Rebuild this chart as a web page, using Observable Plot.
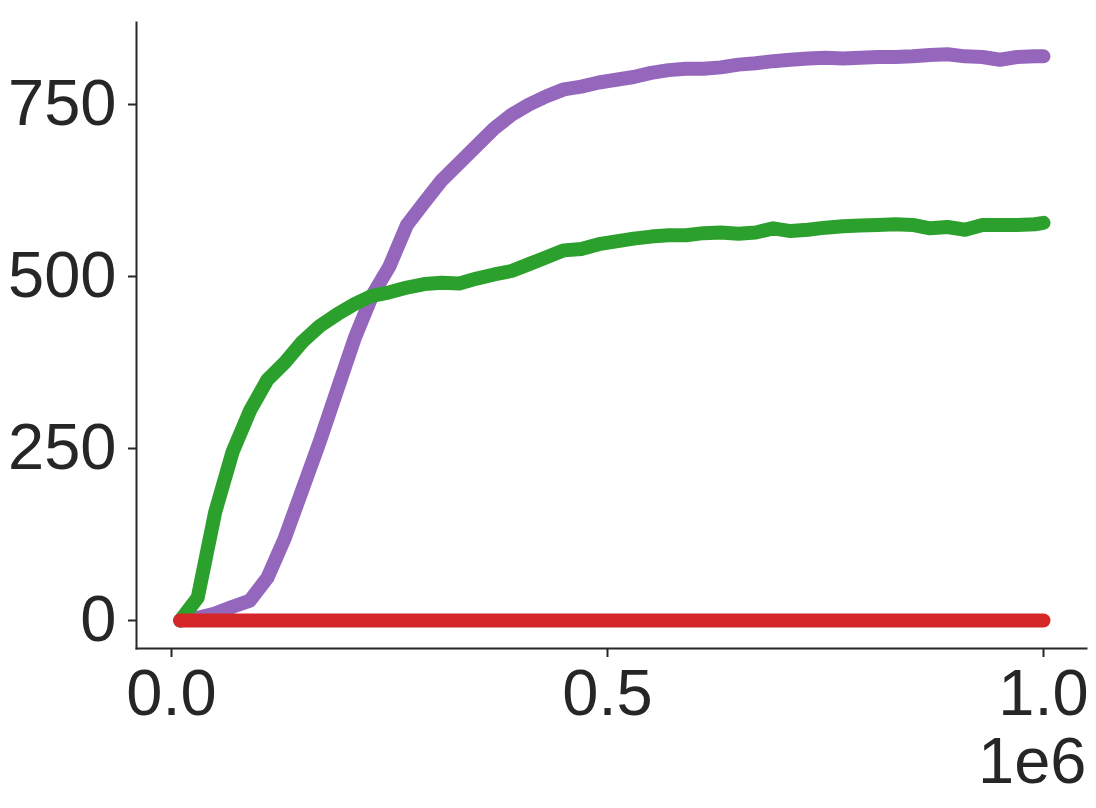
<!DOCTYPE html>
<html>
<head>
<meta charset="utf-8">
<script src="https://cdn.jsdelivr.net/npm/d3@7"></script>
<script src="https://cdn.jsdelivr.net/npm/@observablehq/plot@0.6"></script>
<style>
  html, body { margin: 0; padding: 0; background: #fff; }
  #chart svg { display: block; }
</style>
</head>
<body>
<div id="chart"></div>
<script>
// x positions (thousands of steps)
const steps = [10,30,50,70,90,110,130,150,170,190,210,230,250,270,290,310,330,350,370,390,
  410,430,450,470,490,510,530,550,570,590,610,630,650,670,690,710,730,750,770,790,
  810,830,850,870,890,910,930,950,970,990,1000];

const purpleValues = [0,4,10,20,29,62,120,190,260,335,410,472,515,575,608,640,665,690,715,735,
  750,762,772,776,782,786,790,796,800,802,802,804,808,810,813,815,817,818,817,818,
  819,819,820,822,823,820,819,815,819,820,820];

const greenValues = [0,33,157,245,305,350,375,405,428,445,460,472,477,484,489,491,490,497,503,508,
  518,528,538,540,547,551,555,558,560,560,563,564,562,564,570,566,568,571,573,574,
  575,576,575,570,572,568,575,575,575,576,578];

const redValues = steps.map(() => 0);

const xTicks = [0, 500000, 1000000];
const yTicks = [0, 250, 500, 750];

const seriesNames = ["run A", "run B", "run C"];
const seriesColors = ["#9467bd", "#2ca02c", "#d62728"];
const seriesValues = [purpleValues, greenValues, redValues];

const data = [];
seriesNames.forEach((name, i) => {
  steps.forEach((s, j) => data.push({series: name, x: s * 1000, y: seriesValues[i][j]}));
});

const ink = "#262626";
const W = 1096, H = 808;
const mL = 136, mR = 10, mT = 22, mB = 160;

const chart = Plot.plot({
  width: W,
  height: H,
  marginLeft: mL,
  marginRight: mR,
  marginTop: mT,
  marginBottom: mB,
  style: {fontFamily: "'Liberation Sans', Arial, sans-serif", fontSize: "65px", color: ink, background: "#fff"},
  x: {domain: [-40138, 1049312]},
  y: {domain: [-40.7, 869.2]},
  color: {domain: seriesNames, range: seriesColors},
  marks: [
    Plot.axisY({ticks: yTicks, tickSize: 8, tickPadding: 12, stroke: ink, strokeWidth: 2, fill: ink, fontSize: 65, label: null}),
    Plot.axisX({ticks: xTicks, tickSize: 9, tickPadding: 11, stroke: ink, strokeWidth: 2, fill: ink, fontSize: 65, label: null,
      tickFormat: d => (d / 1e6).toFixed(1)}),
    Plot.frame({anchor: "left", stroke: ink, strokeWidth: 2}),
    Plot.frame({anchor: "bottom", stroke: ink, strokeWidth: 2}),
    ...seriesNames.map(name => Plot.line(data.filter(d => d.series === name), {x: "x", y: "y", stroke: "series", strokeWidth: 14,
      strokeLinecap: "round", strokeLinejoin: "round"})),
    Plot.text(["1e6"], {frameAnchor: "bottom-right", text: d => d, textAnchor: "end", lineAnchor: "middle",
      dy: 114, fontSize: 65, fill: ink})
  ]
});

document.getElementById("chart").appendChild(chart);
</script>
</body>
</html>
